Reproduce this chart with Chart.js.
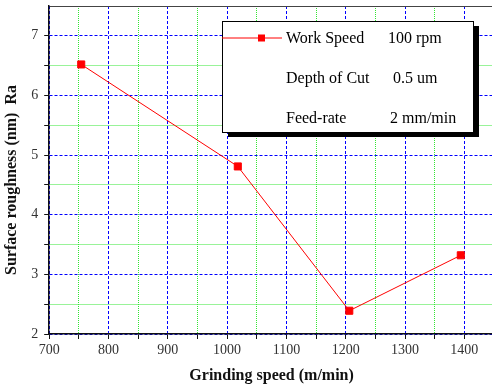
<!DOCTYPE html>
<html>
<head>
<meta charset="utf-8">
<script src="https://cdn.jsdelivr.net/npm/chart.js@4"></script>
<style>
  html, body { margin: 0; padding: 0; overflow: hidden; background: #fff; }
</style>
</head>
<body>
<canvas id="chart" width="494" height="392"></canvas>
<script>
// data
const grindingSpeed = [754, 1018, 1206, 1394];
const roughness = [6.52, 4.81, 2.39, 3.32];

const xTickLabels = [700, 800, 900, 1000, 1100, 1200, 1300, 1400];
const yTickLabels = [2, 3, 4, 5, 6, 7];

const legendLabels = ['Work Speed', 'Depth of Cut', 'Feed-rate'];
const legendValues = ['100 rpm', '0.5 um', '2 mm/min'];

const SERIF = '"Liberation Serif", "Times New Roman", serif';
const MAJOR = '#0000ff';
const MINOR = '#33e633';

// grid style: blue dashed for labelled ticks, green dotted between
function xGridColor(ctx) {
  if (!ctx.tick) return '#111';
  const v = ctx.tick.value;
  if (v >= 1450) return 'rgba(0,0,0,0)';
  return xTickLabels.includes(v) ? MAJOR : MINOR;
}
function yGridColor(ctx) {
  if (!ctx.tick) return '#111';
  const v = ctx.tick.value;
  if (v >= 7.5) return '#444';
  return yTickLabels.includes(v) ? MAJOR : MINOR;
}
function gridDash(labels, top) {
  return ctx => {
    if (!ctx.tick) return [];
    const v = ctx.tick.value;
    if (v >= top) return [];
    return labels.includes(v) ? [3, 2] : [1, 1];
  };
}
// the frame is set by layout padding, not by half-label overhang
function noOverhang(scale) {
  scale.paddingTop = 0;
  scale.paddingBottom = 0;
  scale.paddingLeft = 0;
  scale.paddingRight = 0;
}

// boxed legend with drop shadow, top right of the plot
const legendBox = {
  id: 'legendBox',
  afterDatasetsDraw(chart) {
    const c = chart.ctx;
    const ds = chart.data.datasets[0];
    const x = 222, y = 21, w = 251, h = 111;
    c.save();
    c.fillStyle = '#000';
    c.fillRect(x + 6, y + 5, w, h);
    c.fillStyle = '#fff';
    c.fillRect(x, y, w, h);
    c.strokeStyle = '#000';
    c.lineWidth = 1;
    c.strokeRect(x + 0.5, y + 0.5, w, h);

    // sample line + marker
    c.strokeStyle = ds.borderColor;
    c.beginPath();
    c.moveTo(x, y + 17);
    c.lineTo(x + 60, y + 17);
    c.stroke();
    c.fillStyle = ds.backgroundColor;
    c.fillRect(x + 36, y + 13.5, 7, 7);

    c.fillStyle = '#000';
    c.font = '16px ' + SERIF;
    c.textBaseline = 'alphabetic';
    const valueX = [166, 171, 168];
    legendLabels.forEach((lab, i) => {
      const by = y + 22 + i * 40;
      c.fillText(lab, x + 64, by);
      c.fillText(legendValues[i], x + valueX[i], by);
    });
    c.restore();
  }
};

new Chart(document.getElementById('chart'), {
  type: 'line',
  data: {
    datasets: [{
      label: legendLabels[0],
      data: grindingSpeed.map((s, i) => ({ x: s, y: roughness[i] })),
      borderColor: '#ff0000',
      backgroundColor: '#ff0000',
      borderWidth: 1,
      pointStyle: 'rect',
      pointRadius: 5,
      pointHoverRadius: 5,
      tension: 0
    }]
  },
  options: {
    responsive: false,
    animation: false,
    layout: { autoPadding: false, padding: { left: 0, top: 6, right: 0, bottom: 7 } },
    plugins: {
      legend: { display: false },
      tooltip: { enabled: false }
    },
    scales: {
      x: {
        type: 'linear',
        min: 700,
        max: 1450,
        afterFit: noOverhang,
        ticks: {
          stepSize: 50,
          autoSkip: false,
          maxRotation: 0,
          padding: 3,
          color: '#333',
          font: { family: SERIF, size: 14 },
          callback: v => xTickLabels.includes(v) ? String(v) : ''
        },
        grid: {
          color: xGridColor,
          lineWidth: 1,
          tickLength: 5,
          tickColor: ctx => (ctx.tick && ctx.tick.value >= 1450) ? 'rgba(0,0,0,0)' : '#111',
          tickBorderDash: []
        },
        border: { color: '#111', width: 1.5, dash: gridDash(xTickLabels, 1450) },
        title: {
          display: true,
          text: 'Grinding speed (m/min)',
          color: '#111',
          font: { family: SERIF, size: 16, weight: 'bold' },
          padding: { top: 4, bottom: 0 }
        }
      },
      y: {
        min: 2,
        max: 7.5,
        afterFit: noOverhang,
        ticks: {
          stepSize: 0.5,
          autoSkip: false,
          padding: 6,
          color: '#333',
          font: { family: SERIF, size: 14 },
          callback: v => yTickLabels.includes(v) ? String(v) : ''
        },
        grid: {
          color: yGridColor,
          lineWidth: 1,
          tickLength: 5,
          tickColor: ctx => (ctx.tick && ctx.tick.value >= 7.5) ? 'rgba(0,0,0,0)' : '#111',
          tickBorderDash: []
        },
        border: { color: '#111', width: 1.5, dash: gridDash(yTickLabels, 7.5) },
        title: {
          display: true,
          text: 'Surface roughness (nm)  Ra\u00a0\u00a0\u00a0\u00a0\u00a0',
          color: '#111',
          font: { family: SERIF, size: 16, weight: 'bold' },
          padding: { top: 2, bottom: 4 }
        }
      }
    }
  },
  plugins: [legendBox]
});
</script>
</body>
</html>
